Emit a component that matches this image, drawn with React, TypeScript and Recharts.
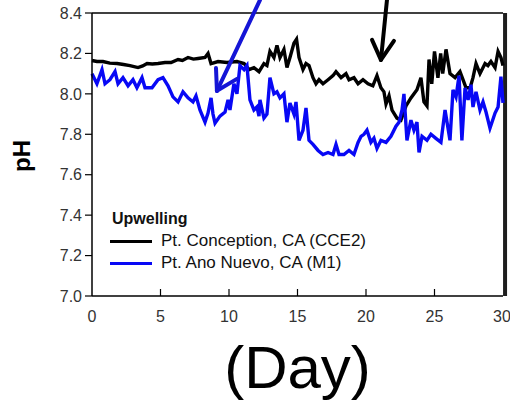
import {
  Legend,
  Line,
  LineChart,
  ReferenceLine,
  XAxis,
  YAxis,
} from "recharts";

const seriesNames = ["Pt. Conception, CA (CCE2)", "Pt. Ano Nuevo, CA (M1)"];

// Pt. Conception, CA (CCE2) — black
const cceDays = [
  0, 0.36, 0.8, 1.3, 1.83, 2.3, 2.77, 3.36, 3.7, 4.02, 4.4, 4.82, 5.33, 5.77,
  6.28, 6.6, 7.01, 7.4, 7.74, 8.25, 8.47, 8.69, 9.2, 9.85, 10.58, 11.1, 11.46,
  11.82, 12.19, 12.55, 12.77, 12.99, 13.28, 13.5, 13.72, 14.01, 14.23, 14.45,
  14.74, 14.93, 15.11, 15.4, 15.62, 15.84, 16.13, 16.35, 16.57, 16.86, 17.23,
  17.59, 17.81, 18.18, 18.54, 18.76, 19.12, 19.42, 19.78, 20.15, 20.5, 20.8,
  21.09, 21.31, 21.46, 21.68, 21.9, 22.26, 22.55, 22.92, 23.28, 23.72, 24.01,
  24.23, 24.45, 24.6, 24.8, 25.0, 25.25, 25.45, 25.6, 25.84, 26.13, 26.5,
  26.86, 27.08, 27.3, 27.6, 27.81, 28.03, 28.32, 28.69, 28.9, 29.12, 29.42,
  29.64, 29.85, 30,
];
const cceValues = [
  8.165, 8.16, 8.16, 8.152, 8.15, 8.145, 8.14, 8.13, 8.138, 8.15, 8.148, 8.15,
  8.155, 8.155, 8.17, 8.165, 8.18, 8.172, 8.175, 8.18, 8.2, 8.15, 8.16, 8.155,
  8.16, 8.15, 8.12, 8.13, 8.11, 8.15, 8.14, 8.21, 8.18, 8.24, 8.18, 8.22, 8.13,
  8.18, 8.25, 8.27, 8.18, 8.12, 8.15, 8.14, 8.08, 8.05, 8.07, 8.05, 8.07, 8.09,
  8.11, 8.08, 8.1, 8.07, 8.08, 8.05, 8.07, 8.05, 8.04, 8.09, 8.03, 8.01, 7.95,
  7.99, 7.92, 7.88, 7.87, 7.94, 7.98, 8.02, 8.08, 7.96, 7.94, 8.17, 8.05, 8.21,
  8.08, 8.2, 8.1, 8.22, 8.1, 8.08, 8.11, 8.07, 8.03, 8.03, 8.08, 8.15, 8.1,
  8.15, 8.14, 8.16, 8.13, 8.21, 8.18, 8.14,
];

// Pt. Ano Nuevo, CA (M1) — blue
const m1Days = [
  0, 0.36, 0.73, 0.95, 1.31, 1.68, 1.9, 2.26, 2.63, 2.99, 3.28, 3.65, 3.87,
  4.38, 4.82, 5.18, 5.55, 5.91, 6.28, 6.64, 7.01, 7.37, 7.59, 7.88, 8.25, 8.47,
  8.69, 8.83, 8.98, 9.34, 9.71, 9.93, 10.07, 10.36, 10.58, 10.8, 11.1, 11.31,
  11.53, 11.82, 12.04, 12.19, 12.26, 12.55, 12.77, 12.99, 13.28, 13.5, 13.72,
  14.01, 14.23, 14.45, 14.74, 14.89, 15.11, 15.4, 15.62, 15.84, 16.13, 16.5,
  16.86, 17.23, 17.59, 17.81, 18.03, 18.39, 18.76, 19.12, 19.42, 19.64, 19.85,
  20.07, 20.36, 20.58, 20.8, 21.09, 21.46, 21.82, 22.19, 22.41, 22.63, 22.77,
  22.99, 23.28, 23.5, 23.72, 23.87, 24.09, 24.45, 24.74, 25.1, 25.47, 25.77,
  26.13, 26.35, 26.57, 26.79, 27.0, 27.23, 27.45, 27.66, 27.81, 28.03, 28.32,
  28.54, 28.76, 29.05, 29.42, 29.64, 29.85, 30,
];
const m1Values = [
  8.1, 8.05, 8.12, 8.05, 8.07, 8.11, 8.05, 8.08, 8.04, 8.07, 8.03, 8.08, 8.03,
  8.03, 8.07, 8.08, 8.04, 7.985, 7.96, 8.01, 7.98, 7.96, 7.99, 7.92, 7.86,
  7.905, 7.98, 7.9, 7.855, 7.89, 7.91, 7.97, 7.92, 8.05, 8.0, 8.14, 8.12, 8.14,
  7.97, 7.92, 7.935, 7.89, 7.97, 7.88, 7.9, 8.08, 8.0, 8.01, 7.98, 8.0, 7.86,
  7.955, 7.9, 7.96, 7.77, 7.82, 7.93, 7.77, 7.75, 7.72, 7.7, 7.71, 7.7, 7.75,
  7.7, 7.7, 7.72, 7.7, 7.76, 7.79, 7.8, 7.82, 7.76, 7.78, 7.73, 7.77, 7.76,
  7.79, 7.84, 7.86, 7.92, 8.0, 7.77, 7.87, 7.82, 7.86, 7.71, 7.79, 7.77, 7.8,
  7.78, 7.76, 7.92, 7.77, 8.02, 7.985, 8.09, 7.77, 8.03, 7.97, 8.045, 7.935,
  8.01, 7.92, 7.96, 7.91, 7.83, 7.905, 7.935, 8.085, 7.955,
];

const xTicks = [0, 5, 10, 15, 20, 25, 30];
const yTicks = [7.0, 7.2, 7.4, 7.6, 7.8, 8.0, 8.2, 8.4];

// annotation arrows, in (day, pH)
const blueArrow = [
  [[12.26, 8.464], [9.12, 8.015]],
  [[9.05, 8.128], [9.12, 8.015]],
  [[10.58, 8.074], [9.12, 8.015]],
];
const blackArrow = [
  [[21.53, 8.464], [21.09, 8.168]],
  [[20.44, 8.267], [21.09, 8.168]],
  [[22.04, 8.262], [21.09, 8.168]],
];

const cceData = cceDays.map((day, i) => ({ day, ph: cceValues[i] }));
const m1Data = m1Days.map((day, i) => ({ day, ph: m1Values[i] }));

const FONT = "'Liberation Sans', Arial, sans-serif";

function XTick(props: any) {
  const { x, y, payload } = props;
  const inner = payload.value !== 0 && payload.value !== 30;
  return (
    <g>
      {inner && <line x1={x} y1={y} x2={x} y2={y - 7} stroke="#000" strokeWidth={1.2} />}
      <text x={x} y={y + 26} textAnchor="middle" fontSize={16} fill="#333" fontFamily={FONT}>
        {payload.value}
      </text>
    </g>
  );
}

function LegendBox(props: any) {
  const items = [...(props.payload || [])].sort(
    (a: any, b: any) => seriesNames.indexOf(a.value) - seriesNames.indexOf(b.value)
  );
  return (
    <div style={{ fontFamily: FONT, color: "#111" }}>
      <div style={{ height: 22, lineHeight: "22px", fontSize: 16, fontWeight: "bold", paddingLeft: 2 }}>
        Upwelling
      </div>
      {items.map((it: any) => (
        <div key={it.value} style={{ height: 22, display: "flex", alignItems: "center" }}>
          <div style={{ width: 42, height: 3, background: it.color, marginRight: 9 }} />
          <span style={{ fontSize: 17, lineHeight: "22px" }}>{it.value}</span>
        </div>
      ))}
    </div>
  );
}

export default function App() {
  return (
    <div style={{ position: "absolute", left: 0, top: 0, width: 510, height: 404, background: "#fff" }}>
      <LineChart
        width={510}
        height={404}
        margin={{ top: 13, right: 7, bottom: 0, left: 0 }}
        style={{ fontFamily: FONT }}
      >
        <XAxis
          type="number"
          dataKey="day"
          domain={[0, 30]}
          ticks={xTicks}
          height={108}
          tickSize={0}
          tickMargin={0}
          tick={<XTick />}
          axisLine={{ stroke: "#000", strokeWidth: 1.5 }}
          label={{ value: "(Day)", position: "insideBottom", offset: 16, fontSize: 60, fill: "#000" }}
        />
        <YAxis
          type="number"
          domain={[7.0, 8.4]}
          ticks={yTicks}
          width={92}
          tickSize={7}
          tickMargin={3}
          tickFormatter={(v) => Number(v).toFixed(1)}
          tick={{ fill: "#333", fontSize: 16 }}
          tickLine={{ stroke: "#000", strokeWidth: 1.2 }}
          axisLine={{ stroke: "#000", strokeWidth: 1.5 }}
          label={{
            content: () => (
              <text
                x={30}
                y={156}
                transform="rotate(-90 30 156)"
                textAnchor="middle"
                fontSize={24}
                fontWeight="bold"
                fill="#000"
                fontFamily={FONT}
              >
                pH
              </text>
            ),
          }}
        />
        <ReferenceLine y={8.4} stroke="#000" strokeWidth={1.5} />
        <ReferenceLine
          segment={[{ x: 30.15, y: 8.4 }, { x: 30.15, y: 7.0 }]}
          stroke="#1e1e1e"
          strokeWidth={4}
          ifOverflow="visible"
        />
        <Line
          data={cceData}
          dataKey="ph"
          name={seriesNames[0]}
          stroke="#000"
          strokeWidth={3.4}
          dot={false}
          isAnimationActive={false}
        />
        <Line
          data={m1Data}
          dataKey="ph"
          name={seriesNames[1]}
          stroke="#0808f5"
          strokeWidth={3.4}
          dot={false}
          isAnimationActive={false}
        />
        {blueArrow.map((s, i) => (
          <ReferenceLine
            key={"b" + i}
            segment={[{ x: s[0][0], y: s[0][1] }, { x: s[1][0], y: s[1][1] }]}
            stroke="#1515d6"
            strokeWidth={4}
            strokeLinecap="round"
            ifOverflow="visible"
          />
        ))}
        {blackArrow.map((s, i) => (
          <ReferenceLine
            key={"k" + i}
            segment={[{ x: s[0][0], y: s[0][1] }, { x: s[1][0], y: s[1][1] }]}
            stroke="#000"
            strokeWidth={4}
            strokeLinecap="round"
            ifOverflow="visible"
          />
        ))}
        <Legend
          layout="vertical"
          align="center"
          verticalAlign="middle"
          content={<LegendBox />}
          wrapperStyle={{ left: 110, top: 208, width: 300, height: 70 }}
        />
      </LineChart>
    </div>
  );
}
